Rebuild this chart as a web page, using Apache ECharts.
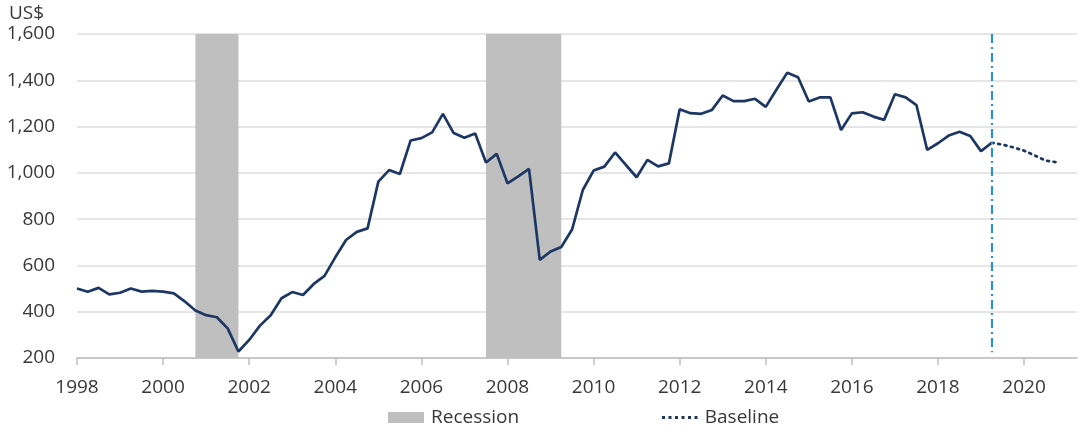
<!DOCTYPE html>
<html>
<head>
<meta charset="utf-8">
<script src="https://cdn.jsdelivr.net/npm/echarts@6/dist/echarts.min.js"></script>
<style>
html,body{margin:0;padding:0;background:#fff;}
#chart{width:1080px;height:434px;}
</style>
</head>
<body>
<div id="chart"></div>
<script>
// Quarterly data, first quarter = 1998Q1
var startYear = 1998;
var histValues = [
  500, 486, 503, 475,
  482, 500, 487, 490,
  487, 479, 445, 405,
  385, 376, 328, 228,
  278, 340, 385, 458,
  485, 472, 520, 555,
  635, 710, 745, 760,
  962, 1012, 995, 1140,
  1150, 1175, 1255, 1172,
  1152, 1170, 1045, 1082,
  955, 985, 1017, 624,
  660, 680, 755, 926,
  1010, 1027, 1088, 1034,
  981, 1056, 1028, 1041,
  1275, 1258, 1255, 1272,
  1334, 1310, 1310, 1320,
  1285, 1360, 1433, 1413,
  1308, 1326, 1326, 1185,
  1257, 1262, 1243, 1229,
  1340, 1326, 1293, 1099,
  1128, 1161, 1178, 1159,
  1094, 1130
];
// Baseline forecast, first quarter = 2019Q2
var forecastStart = 2019.25;
var forecastValues = [1130, 1122, 1110, 1096, 1075, 1053, 1046];
var recessions = [[2000.75, 2001.75], [2007.5, 2009.25]];
var forecastLineX = 2019.25;
var xTickYears = [1998, 2000, 2002, 2004, 2006, 2008, 2010, 2012, 2014, 2016, 2018, 2020];
var yTicks = [200, 400, 600, 800, 1000, 1200, 1400, 1600];

var histData = histValues.map(function (v, i) { return [startYear + i / 4, v]; });
var fcData = forecastValues.map(function (v, i) { return [forecastStart + i / 4, v]; });

var FONT = "'Open Sans', 'Noto Sans', sans-serif";
var TXT = '#383838';
var NAVY = '#1d3765';
var dotsIcon = 'path://M0,0h3v3h-3z M6.5,0h3v3h-3z M13,0h3v3h-3z M19.5,0h3v3h-3z M26,0h3v3h-3z M32.5,0h3v3h-3z';

var chart = echarts.init(document.getElementById('chart'));
chart.setOption({
  animation: false,
  backgroundColor: '#fff',
  textStyle: { fontFamily: FONT },
  grid: { left: 77, right: 3, top: 34, bottom: 76 },
  graphic: [{
    type: 'text', left: 9, top: 4,
    style: { text: 'US$', font: '19px ' + FONT, fill: TXT }
  }],
  legend: [{
    data: [{ name: 'Recession', icon: 'rect' }],
    left: 383, top: 403, itemWidth: 36, itemHeight: 11, itemGap: 0,
    textStyle: { fontSize: 19, color: TXT, fontFamily: FONT, padding: [0, 0, 0, 2] }
  }, {
    data: [{ name: 'Baseline', icon: dotsIcon, itemStyle: { color: NAVY } }],
    left: 657, top: 403, itemWidth: 36, itemHeight: 3, itemGap: 0,
    textStyle: { fontSize: 19, color: TXT, fontFamily: FONT, padding: [0, 0, 0, 2] }
  }],
  xAxis: {
    type: 'value', min: 1998, max: 2021.23,
    axisLine: { show: true, lineStyle: { color: '#bfbfbf', width: 1.5 } },
    axisTick: { show: true, customValues: xTickYears, length: 7, lineStyle: { color: '#bfbfbf', width: 1.5 } },
    axisLabel: {
      customValues: xTickYears, fontSize: 19, color: TXT, margin: 20, fontFamily: FONT,
      formatter: function (v) { return String(Math.round(v)); }
    },
    splitLine: { show: false }
  },
  yAxis: {
    type: 'value', min: 200, max: 1600, interval: 200,
    axisLine: { show: false },
    axisTick: { show: false },
    axisLabel: {
      fontSize: 19, color: TXT, margin: 22, fontFamily: FONT,
      formatter: function (v) { return v.toLocaleString('en-US'); }
    },
    splitLine: { lineStyle: { color: '#dedede', width: 1.5 } }
  },
  series: [{
    name: 'Recession', type: 'bar', data: [],
    itemStyle: { color: '#bfbfbf' }
  }, {
    name: 'History', type: 'line', data: histData,
    symbol: 'none', z: 3,
    lineStyle: { color: NAVY, width: 2.7 },
    markArea: {
      silent: true,
      itemStyle: { color: '#bfbfbf', opacity: 1 },
      data: recessions.map(function (r) { return [{ xAxis: r[0] }, { xAxis: r[1] }]; })
    }
  }, {
    name: 'Baseline', type: 'line', data: fcData,
    symbol: 'none', z: 3,
    itemStyle: { color: NAVY },
    lineStyle: { color: NAVY, width: 2.7, type: [2, 4.5], cap: 'round' },
    markLine: {
      silent: true, symbol: 'none',
      label: { show: false },
      lineStyle: { color: '#2f8fd2', width: 2.2, type: [9, 4, 2, 4] },
      data: [[{ coord: [forecastLineX, 1600] }, { coord: [forecastLineX, 225] }]]
    }
  }]
});
</script>
</body>
</html>
